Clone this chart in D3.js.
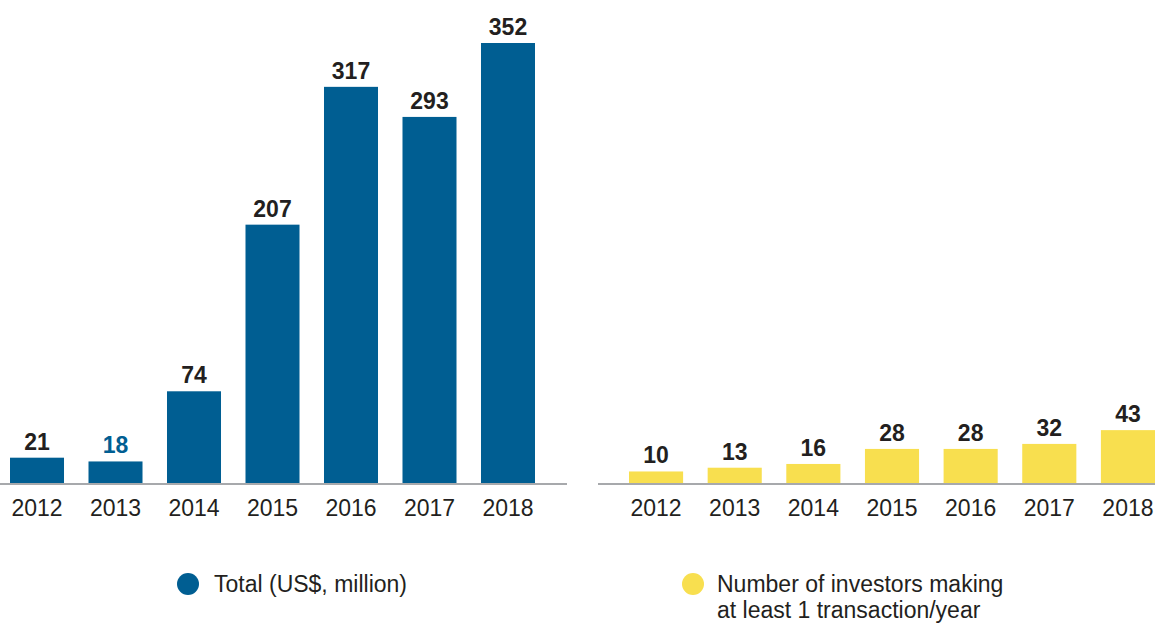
<!DOCTYPE html>
<html>
<head>
<meta charset="utf-8">
<script src="https://cdn.jsdelivr.net/npm/d3@7"></script>
<style>
  html, body { margin: 0; padding: 0; background: #fff; }
  svg { display: block; font-family: "Liberation Sans", Arial, Helvetica, sans-serif; }
</style>
</head>
<body>
<svg id="chart" width="1155" height="624"></svg>
<script>
// Years shared by both panels
const years = ["2012", "2013", "2014", "2015", "2016", "2017", "2018"];
// Total investment, US$ million
const totalValues = [21, 18, 74, 207, 317, 293, 352];
// Number of investors making at least one transaction per year
const investorValues = [10, 13, 16, 28, 28, 32, 43];
// Legend texts
const legendTotal = ["Total (US$, million)"];
const legendInvestors = ["Number of investors making", "at least 1 transaction/year"];

const BLUE = "#005e92";
const YELLOW = "#f8df4f";
const TEXT = "#231f20";
const AXIS = "#a7a9ac";

const svg = d3.select("#chart");
const baseY = 484;

// A single value scale so both panels are drawn to the same units
const y = d3.scaleLinear().domain([0, 352]).range([baseY, 43]);

function panel(values, color, range, axisRange, labelColors) {
  const x = d3.scaleBand().domain(years).range(range).paddingInner(0.312).paddingOuter(0);
  const g = svg.append("g");

  g.selectAll("rect.bar").data(values).join("rect")
    .attr("class", "bar")
    .attr("x", (d, i) => x(years[i]))
    .attr("width", x.bandwidth())
    .attr("y", d => y(d))
    .attr("height", d => baseY - y(d))
    .attr("fill", color);

  g.append("line")
    .attr("x1", axisRange[0]).attr("x2", axisRange[1])
    .attr("y1", baseY).attr("y2", baseY)
    .attr("stroke", AXIS).attr("stroke-width", 2);

  g.selectAll("text.val").data(values).join("text")
    .attr("class", "val")
    .attr("x", (d, i) => x(years[i]) + x.bandwidth() / 2)
    .attr("y", d => y(d) - 8)
    .attr("text-anchor", "middle")
    .attr("font-weight", "bold")
    .attr("font-size", 23)
    .attr("fill", (d, i) => labelColors ? labelColors[i] : TEXT)
    .text(d => d);

  g.selectAll("text.year").data(years).join("text")
    .attr("class", "year")
    .attr("x", d => x(d) + x.bandwidth() / 2)
    .attr("y", 516)
    .attr("text-anchor", "middle")
    .attr("font-size", 23)
    .attr("fill", TEXT)
    .text(d => d);
}

panel(totalValues, BLUE, [10, 535], [0, 567],
  totalValues.map((d, i) => i === 1 ? BLUE : TEXT));
panel(investorValues, YELLOW, [629, 1155], [598, 1155]);

function legend(cx, tx, lines, color) {
  const g = svg.append("g");
  g.append("circle").attr("cx", cx).attr("cy", 584).attr("r", 11).attr("fill", color);
  g.selectAll("text").data(lines).join("text")
    .attr("x", tx)
    .attr("y", (d, i) => 592 + i * 26)
    .attr("font-size", 23)
    .attr("fill", TEXT)
    .text(d => d);
}
legend(188, 214, legendTotal, BLUE);
legend(693, 717, legendInvestors, YELLOW);
</script>
</body>
</html>
